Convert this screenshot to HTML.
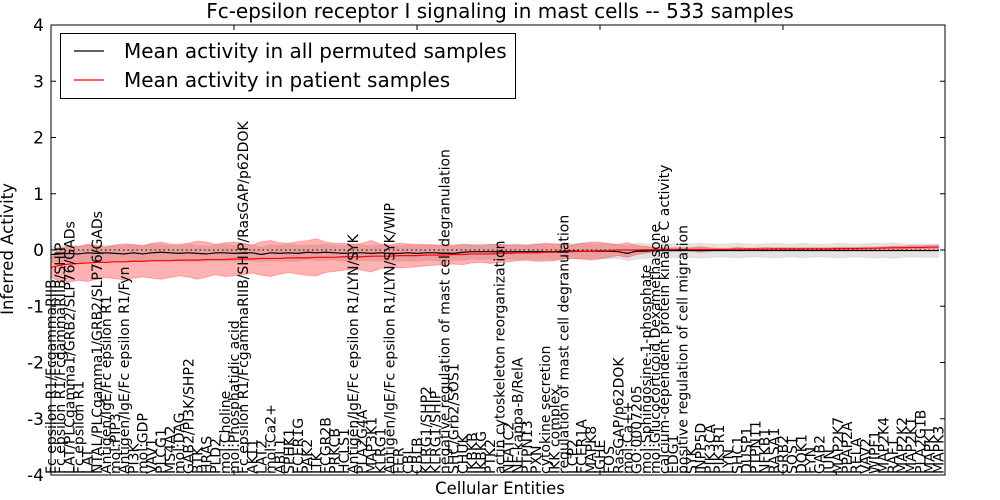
<!DOCTYPE html>
<html><head><meta charset="utf-8"><style>
body{margin:0;background:#fff;}
svg{display:block;font-family:"DejaVu Sans","Liberation Sans",sans-serif;}
</style></head><body>
<svg id="chart" width="1000" height="500"></svg>
<script>
const labels=["Fc epsilon R1/FcgammaRIIB","Fc epsilon R1/FcgammaRIIB/SHIP","LAT/PLCgamma1/GRB2/SLP76/GADs","Fc epsilon R1","LAT","NTAL/PLCgamma1/GRB2/SLP76/GADs","Antigen/IgE/Fc epsilon R1","mol:PIP3","Antigen/IgE/Fc epsilon R1/Fyn","PI3K","mol:GDP","VAV1","PLCG1","MS4A2","mol:DAG","GAB2/PI3K/SHP2","BTK","HRAS","PLD2","mol:Choline","mol:Phosphatidic acid","Fc epsilon R1/FcgammaRIIB/SHIP/RasGAP/p62DOK","AKT1","LAT2","mol:Ca2+","ABL1","SPHK1","FCER1G","PAK2","ITK","FCGR2B","PRKCB","HCLS1","Antigen/IgE/Fc epsilon R1/LYN/SYK","PLA2G4A","MAP3K1","KLRG1","Antigen/IgE/Fc epsilon R1/LYN/SYK/WIP","FER","CBL","CBLB","KLRG1/SHP2","KLRG1/SHIP","negative regulation of mast cell degranulation","SHC/Grb2/SOS1","CHUK","IKBKB","IKBKG","PTK2","actin cytoskeleton reorganization","NFATC2","NF-kappa-B/RelA","PTPN13","PXN","cytokine secretion","IKK complex","regulation of mast cell degranulation","LCP2","FCER1A","MAPK8","IGHE","FOS","RasGAP/p62DOK","mol:Ca++","GO:0007205","mol:Sphingosine-1-phosphate","mol:Glucocorticoid Dexamethasone","calcium-dependent protein kinase C activity","EDG1","positive regulation of cell migration","SYK","INPP5D","PIK3CA","PIK3R1","LYN","SHC1","DUSP1","PTPN11","NFKB1","RASA1","GRB2","SOS1","DOK1","FYN","GAB2","JUN","MAP2K7","PPAP2A","RELA","VAV2","WIPF1","MAP2K4","RAF1","MAP2K2","MAP2K1","PLA2G1B","MAPK1","MAPK3"];
const redMean=[-0.31,-0.27,-0.25,-0.24,-0.23,-0.22,-0.22,-0.21,-0.21,-0.20,
-0.20,-0.19,-0.19,-0.19,-0.18,-0.18,-0.18,-0.17,-0.17,-0.17,
-0.16,-0.16,-0.16,-0.15,-0.15,-0.15,-0.14,-0.14,-0.14,-0.13,
-0.13,-0.13,-0.12,-0.12,-0.12,-0.11,-0.11,-0.11,-0.10,-0.10,
-0.10,-0.09,-0.09,-0.09,-0.08,-0.08,-0.07,-0.07,-0.07,-0.06,
-0.06,-0.05,-0.05,-0.05,-0.04,-0.04,-0.03,-0.03,-0.02,-0.02,
-0.01,-0.01,0,0,0,0.005,0.005,0.01,0.01,0.01,
0.01,0.01,0.01,0.01,0.01,0.015,0.015,0.015,0.015,0.02,
0.02,0.02,0.02,0.02,0.02,0.02,0.025,0.025,0.025,0.03,
0.03,0.035,0.04,0.04,0.045,0.045,0.05,0.05];
const redSd=[0.17,0.30,0.32,0.30,0.33,0.30,0.27,0.30,0.32,0.30,
0.28,0.31,0.33,0.30,0.28,0.30,0.34,0.31,0.27,0.30,
0.30,0.28,0.25,0.30,0.32,0.28,0.26,0.29,0.31,0.33,
0.27,0.25,0.24,0.22,0.24,0.28,0.22,0.20,0.22,0.21,
0.20,0.19,0.18,0.17,0.17,0.18,0.16,0.15,0.17,0.16,
0.15,0.14,0.13,0.15,0.16,0.15,0.13,0.12,0.14,0.16,
0.15,0.12,0.10,0.13,0.08,0.06,0.04,0.03,0.03,0.03,
0.03,0.05,0.03,0.02,0.02,0.03,0.02,0.02,0.03,0.02,
0.02,0.02,0.02,0.02,0.02,0.02,0.02,0.02,0.02,0.02,
0.02,0.02,0.03,0.03,0.03,0.03,0.03,0.03];
const blackMean=[-0.08,-0.07,-0.06,-0.07,-0.05,-0.06,-0.05,-0.06,-0.07,-0.05,
-0.07,-0.05,-0.04,-0.05,-0.06,-0.05,-0.06,-0.07,-0.05,-0.05,
-0.06,-0.05,-0.05,-0.08,-0.05,-0.06,-0.05,-0.06,-0.04,-0.05,
-0.04,-0.05,-0.06,-0.05,-0.05,-0.06,-0.05,-0.06,-0.06,-0.05,
-0.06,-0.05,-0.05,-0.06,-0.06,-0.04,-0.03,-0.03,-0.03,-0.03,
-0.03,-0.03,-0.03,-0.03,-0.03,-0.03,-0.02,-0.02,-0.02,-0.02,
-0.02,-0.02,-0.03,-0.06,-0.02,-0.02,-0.01,-0.01,-0.01,-0.01,
-0.01,-0.01,-0.01,-0.01,-0.01,-0.01,-0.01,-0.01,-0.01,-0.01,
-0.01,-0.01,-0.01,-0.01,-0.01,-0.01,-0.01,-0.01,-0.01,-0.01,
-0.01,-0.01,-0.01,-0.01,-0.01,-0.01,-0.01,-0.01];
const greySd=[0.14,0.14,0.15,0.14,0.15,0.14,0.13,0.14,0.15,0.14,
0.14,0.15,0.14,0.13,0.14,0.15,0.14,0.13,0.14,0.15,
0.14,0.15,0.14,0.13,0.14,0.14,0.15,0.14,0.13,0.14,
0.14,0.13,0.14,0.15,0.14,0.13,0.14,0.14,0.13,0.14,
0.14,0.13,0.14,0.14,0.13,0.14,0.13,0.14,0.13,0.14,
0.13,0.14,0.13,0.14,0.13,0.14,0.13,0.13,0.14,0.13,
0.13,0.14,0.12,0.13,0.14,0.13,0.12,0.13,0.12,0.12,
0.12,0.13,0.12,0.11,0.12,0.13,0.12,0.11,0.12,0.13,
0.12,0.11,0.13,0.12,0.11,0.12,0.13,0.12,0.11,0.12,
0.13,0.12,0.14,0.12,0.11,0.12,0.12,0.12];
const yTicks=[4,3,2,1,0,-1,-2,-3,-4];

const NS="http://www.w3.org/2000/svg";
const svg=document.getElementById('chart');
const L=51,R=945,T=25,B=475;
const X=i=>L+i*9.15;
const Y=v=>T+(4-v)*(B-T)/8;
function mk(tag,attrs,parent){const e=document.createElementNS(NS,tag);for(const k in attrs)e.setAttribute(k,attrs[k]);(parent||svg).appendChild(e);return e;}

function band(mean,sd,fill,op,name){
  let d='';
  mean.forEach((m,i)=>{d+=(i?'L':'M')+X(i)+','+Y(m+sd[i]);});
  for(let i=mean.length-1;i>=0;i--)d+='L'+X(i)+','+Y(mean[i]-sd[i]);
  const p=mk('path',{d:d+'Z',fill:fill,'fill-opacity':op,stroke:fill,'stroke-opacity':op*0.8,'stroke-width':1});
  
  
}
function line(vals,col,name){
  const p=mk('polyline',{points:vals.map((v,i)=>X(i)+','+Y(v)).join(' '),fill:'none',stroke:col,'stroke-width':1.2});
  
  
}
band(blackMean,greySd,'#c8c8c8',0.5,'permuted-band');
band(redMean,redSd,'#ff0000',0.3,'patient-band');
const z=mk('line',{x1:L,x2:R,y1:Y(0),y2:Y(0),stroke:'#000','stroke-dasharray':'1.5,3','stroke-width':1});


line(blackMean,'#000','permuted-mean-line');
line(redMean,'#ff0000','patient-mean-line');

const fr=mk('rect',{x:L,y:T,width:R-L,height:B-T,fill:'none',stroke:'#000','stroke-width':1});



yTicks.forEach(v=>{
  mk('line',{x1:L,x2:L+5,y1:Y(v),y2:Y(v),stroke:'#000'});
  mk('line',{x1:R-5,x2:R,y1:Y(v),y2:Y(v),stroke:'#000'});
  const t=mk('text',{x:L-7,y:Y(v)+6,'text-anchor':'end','font-size':17});
  t.textContent=v;
  
  
});
for(let i=0;i<labels.length;i+=20){
  mk('line',{x1:X(i),x2:X(i),y1:T,y2:T+5,stroke:'#000'});
  mk('line',{x1:X(i),x2:X(i),y1:B-5,y2:B,stroke:'#000'});
}
labels.forEach((s,i)=>{
  const t=mk('text',{transform:'translate('+(X(i)+5)+','+(B-1)+') rotate(-90)','font-size':14});
  t.textContent=s;
  
  
});
</script>
<div style="position:absolute;left:0;top:0;width:1000px;height:500px;pointer-events:none">
<svg width="1000" height="500" style="position:absolute;left:0;top:0">
<text x="500" y="18" text-anchor="middle" font-size="20">Fc-epsilon receptor I signaling in mast cells -- 533 samples</text>
<text x="500" y="494" text-anchor="middle" font-size="16.5">Cellular Entities</text>
<text transform="translate(13,249) rotate(-90)" text-anchor="middle" font-size="16.5">Inferred Activity</text>
<g>
<rect x="60.5" y="33.5" width="455" height="65" fill="#fff" stroke="#000"/>
<line x1="74" x2="104" y1="51" y2="51" stroke="#000" stroke-width="1.2"/>
<text x="124" y="58" font-size="20">Mean activity in all permuted samples</text>
<line x1="74" x2="104" y1="80" y2="80" stroke="#f00" stroke-width="1.2"/>
<text x="124" y="87" font-size="20">Mean activity in patient samples</text>
</g>
</svg></div>
</body></html>
